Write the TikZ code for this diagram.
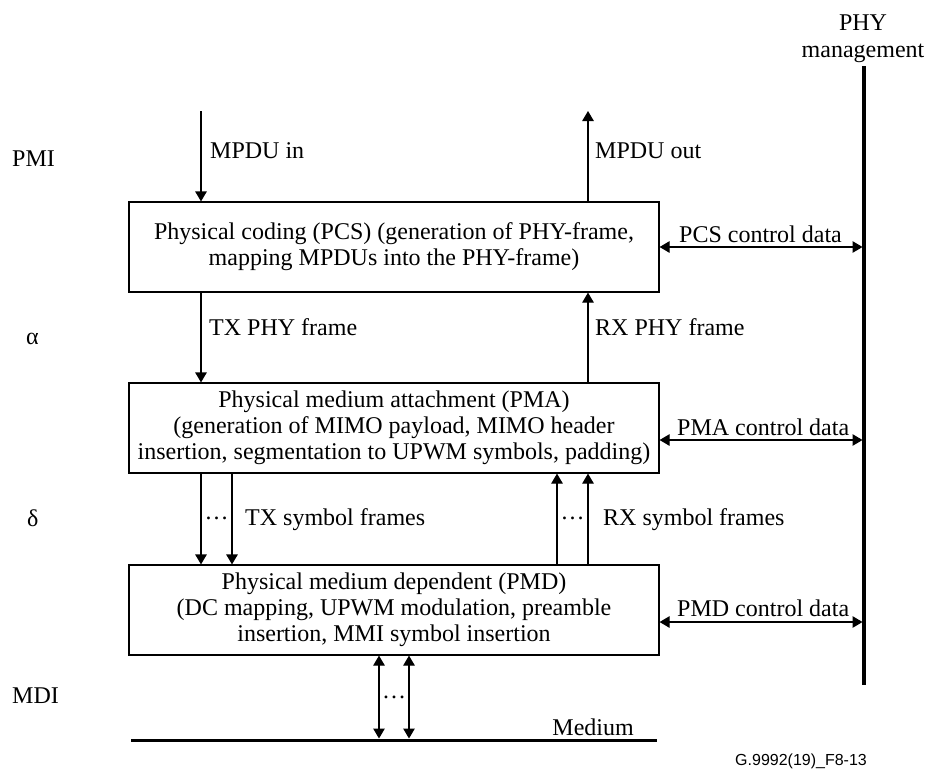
\documentclass[tikz,border=0pt]{standalone}
\usepackage{fontspec}
\setmainfont{Liberation Serif}
\newfontfamily\figsans{Liberation Sans}
\usetikzlibrary{arrows.meta}
\begin{document}
\begin{tikzpicture}[x=1pt,y=-1pt,
  every node/.style={font=\fontsize{24}{26}\selectfont, inner sep=0pt},
  blk/.style={draw, line width=1.2pt, minimum width=530pt, minimum height=90pt, align=center},
  flow/.style={line width=1.2pt, -{Triangle[length=10pt,width=11.5pt]}},
  bidir/.style={line width=1.2pt, {Triangle[length=10pt,width=11.5pt]}-{Triangle[length=10pt,width=11.5pt]}, shorten >=1.5pt},
  thickline/.style={line width=3.3pt},
  lbl/.style={anchor=base west},
]
\useasboundingbox (0,0) rectangle (928,769);

% sublayer blocks
\node[blk] (pcs) at (394,247) {Physical coding (PCS) (generation of PHY-frame,\\ mapping MPDUs into the PHY-frame)};
\node[blk] (pma) at (394,428) {Physical medium attachment (PMA)\\ (generation of MIMO payload, MIMO header\\ insertion, segmentation to UPWM symbols, padding)};
\node[blk] (pmd) at (394,610) {Physical medium dependent (PMD)\\ (DC mapping, UPWM modulation, preamble\\ insertion, MMI symbol insertion};

% management bus
\coordinate (mgTop) at (864,66);
\coordinate (mgBot) at (864,685);
\draw[thickline] (mgTop) -- (mgBot);
\node[anchor=base] (phy) at (863,30) {PHY};
\node[anchor=base] (mgmt) at (863,57) {management};

% medium
\coordinate (medL) at (131,740);
\coordinate (medR) at (657,740);
\draw[line width=3pt] (medL) -- (medR);
\node[anchor=base east] (medlbl) at (634,735) {Medium};

% data path columns
\coordinate (inTop) at (201,111);
\coordinate (outTop) at (588,111);
\coordinate (tx2) at (232,0);
\coordinate (rx1) at (557,0);
\coordinate (m1) at (379,740);
\coordinate (m2) at (409,740);

\draw[flow] (inTop) -- (inTop |- pcs.north);
\draw[flow] (outTop |- pcs.north) -- (outTop);
\draw[flow] (inTop |- pcs.south) -- (inTop |- pma.north);
\draw[flow] (outTop |- pma.north) -- (outTop |- pcs.south);
\draw[flow] (inTop |- pma.south) -- (inTop |- pmd.north);
\draw[flow] (tx2 |- pma.south) -- (tx2 |- pmd.north);
\draw[flow] (rx1 |- pmd.north) -- (rx1 |- pma.south);
\draw[flow] (outTop |- pmd.north) -- (outTop |- pma.south);
\draw[bidir] (m1 |- pmd.south) -- (m1);
\draw[bidir] (m2 |- pmd.south) -- (m2);

% control interfaces
\draw[bidir] (pcs.east) -- (pcs.east -| mgTop);
\draw[bidir] ([yshift=-12pt]pma.east) -- ([yshift=-12pt]pma.east -| mgTop);
\draw[bidir] ([yshift=-12pt]pmd.east) -- ([yshift=-12pt]pmd.east -| mgTop);
\node[lbl] (pcsc) at (679,242) {PCS control data};
\node[lbl] (pmac) at (677,435) {PMA control data};
\node[lbl] (pmdc) at (677,616) {PMD control data};

% flow labels
\node[lbl] (inl) at (210,158) {MPDU in};
\node[lbl] (outl) at (595,158) {MPDU out};
\node[lbl] (txl) at (209,335) {TX PHY frame};
\node[lbl] (rxl) at (595,335) {RX PHY frame};
\node[anchor=base] (txd) at (216.5,519) {…};
\node[lbl] (txs) at (245,525) {TX symbol frames};
\node[anchor=base] (rxd) at (572.5,519) {…};
\node[lbl] (rxs) at (603,525) {RX symbol frames};
\node[anchor=base] (mdd) at (394,698) {…};

% interface names
\node[lbl] (pmi) at (12,166) {PMI};
\node[lbl] (alpha) at (26,344) {α};
\node[lbl] (delta) at (27,526) {δ};
\node[lbl] (mdi) at (12,703) {MDI};

\node[anchor=base west, font=\figsans\fontsize{16}{18}\selectfont] (ref) at (735,765) {G.9992(19)\_F8-13};
\end{tikzpicture}
\end{document}
